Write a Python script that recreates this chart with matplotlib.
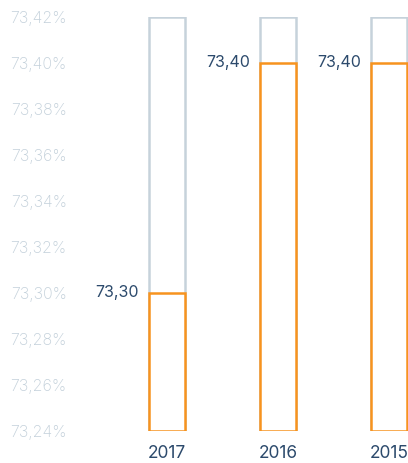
import numpy as np
import matplotlib.pyplot as plt

plt.rcParams['font.family'] = ['Inter', 'DejaVu Sans']

years = ['2017', '2016', '2015']
values = [73.30, 73.40, 73.40]
y_min, y_max = 73.24, 73.42
y_ticks = np.arange(73.24, 73.4201, 0.02)

grey = '#c6d2db'
orange = '#f7931e'
navy = '#2c4a6c'

fig = plt.figure(figsize=(4.08, 4.63), dpi=100)
ax = fig.add_axes([100 / 408, 32 / 463, 308 / 408, 414 / 463])

index = np.arange(len(years))
bar_width = 0.32

# full-height frame behind each bar
ax.bar(index, [y_max - y_min] * len(years), bar_width, bottom=y_min,
       facecolor='white', edgecolor=grey, linewidth=1.8)
# actual value
ax.bar(index, [v - y_min for v in values], bar_width, bottom=y_min,
       facecolor='white', edgecolor=orange, linewidth=1.8)

for i, v in zip(index, values):
    ax.text(i - bar_width / 2 - 0.09, v, ('%.2f' % v).replace('.', ','),
            ha='right', va='center', fontsize=11.5, color=navy)

ax.set_xlim(-0.6, 2.17)
ax.set_ylim(y_min, y_max)
ax.set_yticks(y_ticks)
ax.set_yticklabels([('%.2f%%' % t).replace('.', ',') for t in y_ticks],
                   fontsize=11.5, color='#c3d0da', fontweight='light')
ax.set_xticks(index)
ax.set_xticklabels(years, fontsize=12.5, color=navy)
ax.tick_params(axis='y', length=0, pad=24)
ax.tick_params(axis='x', length=0, pad=10)
for s in ax.spines.values():
    s.set_visible(False)

plt.savefig('out.png', dpi=100)
